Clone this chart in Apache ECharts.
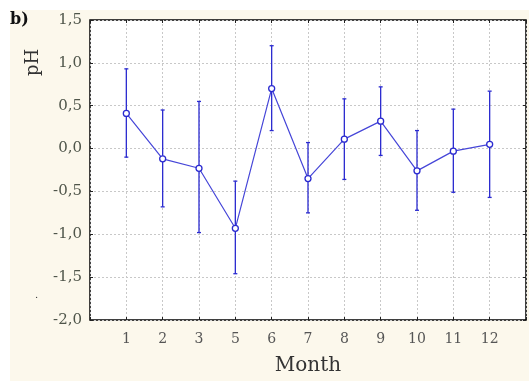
<!DOCTYPE html>
<html><head><meta charset="utf-8">
<script src="https://cdn.jsdelivr.net/npm/echarts@6/dist/echarts.min.js"></script>
<style>html,body{margin:0;padding:0;background:#fff}#c{width:529px;height:381px}</style>
</head><body><div id="c"></div>
<script>
const months = ['1','2','3','5','6','7','8','9','10','11','12'];
const means  = [0.41, -0.12, -0.23, -0.93, 0.70, -0.35, 0.11, 0.32, -0.26, -0.03, 0.05];
const upper  = [0.93, 0.45, 0.55, -0.38, 1.20, 0.07, 0.58, 0.72, 0.21, 0.46, 0.67];
const lower  = [-0.10, -0.68, -0.98, -1.46, 0.21, -0.75, -0.36, -0.08, -0.72, -0.51, -0.57];
const yTicks = ['-2,0','-1,5','-1,0','-0,5','0,0','0,5','1,0','1,5'];

const font = 'DejaVu Serif';
const lineData = means.map((m,i)=>[i+1,m]);
const errData = means.map((m,i)=>[i+1,lower[i],upper[i]]);
const blue = '#2a2ad0';
const tick = {show:true,inside:true,length:3,lineStyle:{color:'#222'}};

const chart = echarts.init(document.getElementById('c'));
chart.setOption({
  backgroundColor:'#fff',
  animation:false,
  graphic:[
    {type:'rect',z:-10,shape:{x:10,y:10,width:519,height:371},style:{fill:'#fcf8ec'}},
    {type:'text',left:10,top:12,style:{text:'b)',font:'bold 16px '+font,fill:'#111'}},
    {type:'text',x:24,y:76,rotation:Math.PI/2,style:{text:'pH',font:'18px '+font,fill:'#333'}},
    {type:'text',x:35,y:290,style:{text:'.',font:'10px '+font,fill:'#333'}}
  ],
  grid:{left:90,right:1,top:20,bottom:59,show:true,backgroundColor:'#fff',borderColor:'#000',borderWidth:1.5},
  xAxis:[{
    type:'value',min:0,max:12,interval:1,
    name:'Month',nameLocation:'middle',nameGap:36,
    nameTextStyle:{fontFamily:font,fontSize:20,color:'#333'},
    axisLine:{show:false,onZero:false},
    axisTick:tick,
    axisLabel:{fontFamily:font,fontSize:14,color:'#555',margin:12,
      formatter:v=>(v>=1&&v<=months.length)?months[v-1]:''},
    splitLine:{show:true,lineStyle:{color:'#c8c8c8',type:[2,2]}}
  },{
    type:'value',position:'top',min:0,max:12,interval:1,
    axisLine:{show:false,onZero:false},axisLabel:{show:false},splitLine:{show:false},
    axisTick:tick
  }],
  yAxis:[{
    type:'value',min:-2,max:1.5,interval:0.5,
    axisLine:{show:false,onZero:false},
    axisTick:tick,
    axisLabel:{fontFamily:font,fontSize:15,color:'#4f554a',margin:8,
      formatter:v=>yTicks[Math.round((v+2)/0.5)]},
    splitLine:{show:true,lineStyle:{color:'#c8c8c8',type:[2,2]}}
  },{
    type:'value',position:'right',min:-2,max:1.5,interval:0.5,
    axisLine:{show:false,onZero:false},axisLabel:{show:false},splitLine:{show:false},
    axisTick:tick
  }],
  series:[{
    type:'custom',
    data:errData,
    z:2,
    renderItem:(params,api)=>{
      const x=api.value(0);
      const lo=api.coord([x,api.value(1)]);
      const hi=api.coord([x,api.value(2)]);
      const c=2;
      const st={stroke:blue,lineWidth:1.3};
      return {type:'group',children:[
        {type:'line',shape:{x1:lo[0],y1:lo[1],x2:hi[0],y2:hi[1]},style:st},
        {type:'line',shape:{x1:lo[0]-c,y1:lo[1],x2:lo[0]+c,y2:lo[1]},style:st},
        {type:'line',shape:{x1:hi[0]-c,y1:hi[1],x2:hi[0]+c,y2:hi[1]},style:st}
      ]};
    }
  },{
    type:'line',
    data:lineData,
    z:3,
    symbol:'circle',symbolSize:6,
    lineStyle:{color:'#4646d8',width:1.2},
    itemStyle:{color:'#fff',borderColor:blue,borderWidth:1.3}
  }]
});
</script></body></html>
